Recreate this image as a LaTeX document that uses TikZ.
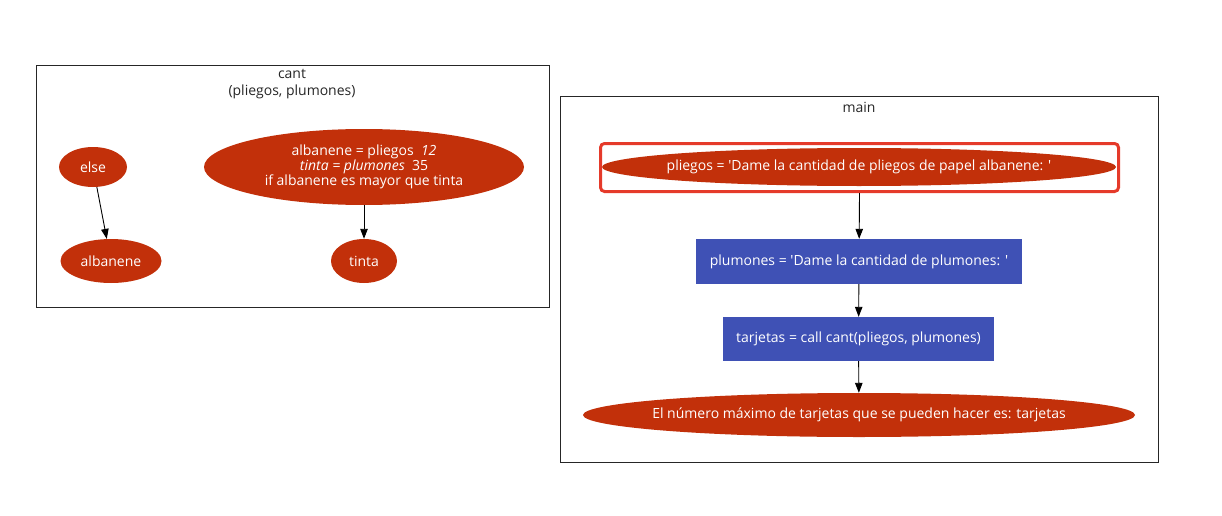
\documentclass[tikz,border=0pt]{standalone}
\usepackage{fontspec}
\setmainfont{Open Sans}[Ligatures=TeXOff]
\usetikzlibrary{shapes.geometric,arrows.meta}
\definecolor{nred}{HTML}{C2300A}
\definecolor{nblue}{HTML}{3F51B5}
\definecolor{hred}{HTML}{E53A2A}
\tikzset{
  x=1pt,y=-1pt,
  txt/.style={text=white,font=\fontsize{14}{16}\selectfont,align=center,inner sep=0pt},
  ell/.style={ellipse,fill=nred,inner sep=0pt},
  box/.style={rectangle,fill=nblue,txt},
  cluster/.style={draw=black!85,line width=0.9pt},
  title/.style={font=\fontsize{14}{17}\selectfont,align=center,text=black!85},
  arr/.style={-{Triangle[length=10pt,width=7.5pt]},line width=0.9pt,black},
}
\begin{document}
\begin{tikzpicture}
\useasboundingbox (0,0) rectangle (1222,516);
% cant cluster
\draw[cluster] (36,65) rectangle (549,307);
\node[title] (cantt) at (292,84) {cant\\(pliegos, plumones)};
\node[ell,minimum width=68pt,minimum height=40pt,label={[txt]center:else}] (else) at (93,167) {};
\node[ell,minimum width=101pt,minimum height=44pt,label={[txt]center:albanene}] (alb) at (111,261) {};
\node[ell,minimum width=320pt,minimum height=76pt,label={[txt]center:{albanene = pliegos\ \ \textit{12}\\[-1pt]\textit{tinta = plumones}\ \ 35\\[-1pt]if albanene es mayor que tinta}}] (big) at (364,167) {};
\node[ell,minimum width=66pt,minimum height=44pt,label={[txt]center:tinta}] (tinta) at (364,261) {};
\draw[arr] (else) -- (alb);
\draw[arr] (big) -- (tinta);
% main cluster
\draw[cluster] (560,96) rectangle (1158,462);
\node[title] (maint) at (859,107) {main};
\node[draw=hred,line width=3pt,rounded corners=4pt,minimum width=518pt,minimum height=48pt] (hl) at (859.5,167.5) {};
\node[ell,minimum width=514pt,minimum height=38pt,label={[txt]center:pliegos = 'Dame la cantidad de pliegos de papel albanene: '}] (pl) at (859,167) {};
\node[box,minimum width=326pt,minimum height=45pt] (plu) at (859,261.5) {plumones = 'Dame la cantidad de plumones: '};
\node[box,minimum width=271pt,minimum height=44pt] (tar) at (858.5,339) {tarjetas = call cant(pliegos, plumones)};
\node[ell,minimum width=552pt,minimum height=44pt,label={[txt]center:El número máximo de tarjetas que se pueden hacer es: tarjetas}] (fin) at (859,415) {};
\draw[arr] (hl.south) -- (plu);
\draw[arr] (plu) -- (tar);
\draw[arr] (tar) -- (fin);
\end{tikzpicture}
\end{document}
